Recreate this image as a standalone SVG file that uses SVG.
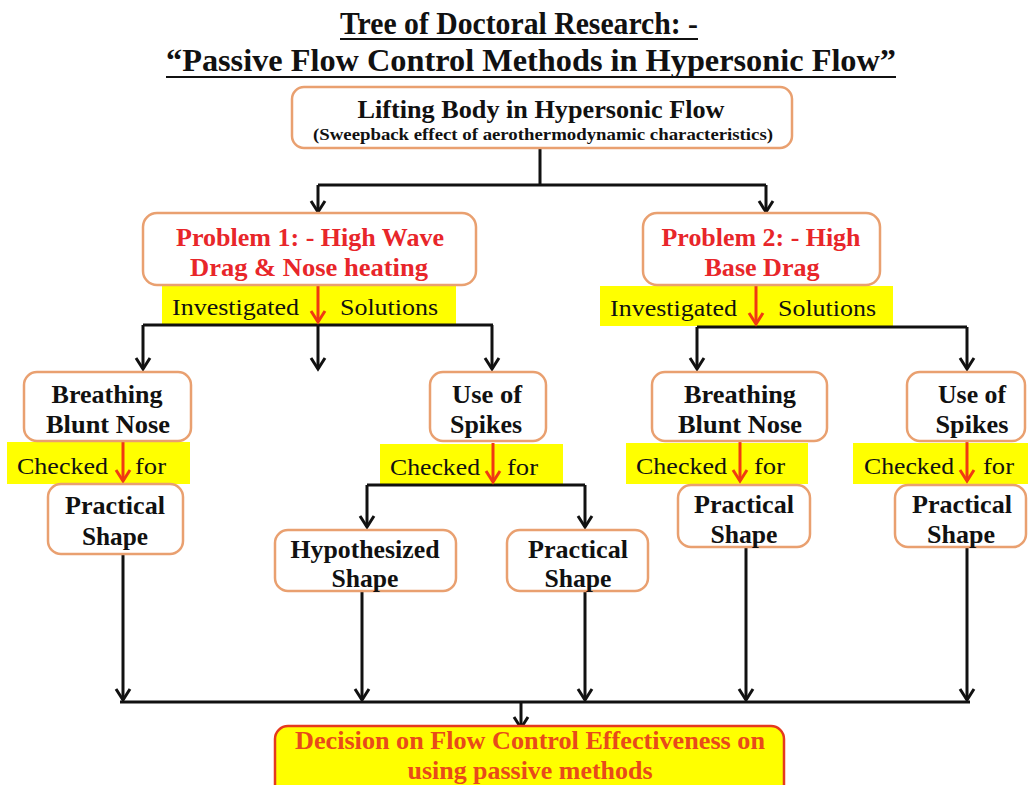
<svg xmlns="http://www.w3.org/2000/svg" width="1028" height="785" viewBox="0 0 1028 785">
<style>
.box{fill:#fff;stroke:#E9A070;stroke-width:2.5}
.band{fill:#FFFF00}
.t{font-family:"Liberation Serif","Times New Roman",serif;font-weight:bold;fill:#111;text-anchor:middle;font-size:26px}
.r{font-family:"Liberation Serif","Times New Roman",serif;fill:#111;font-size:24px}
.red{fill:#E8262A}
.c{fill:none;stroke:#111;stroke-width:3}
.cr{fill:none;stroke:#F03A12;stroke-width:3}
</style>
<defs>
<marker id="ab" markerUnits="userSpaceOnUse" markerWidth="20" markerHeight="20" viewBox="-14 -10 16 20" refX="0" refY="0" orient="auto" overflow="visible">
<path d="M-11,-7 L0,0 L-11,7" fill="none" stroke="#111" stroke-width="3"/>
</marker>
<marker id="ar" markerUnits="userSpaceOnUse" markerWidth="20" markerHeight="20" viewBox="-14 -10 16 20" refX="0" refY="0" orient="auto" overflow="visible">
<path d="M-11,-7 L0,0 L-11,7" fill="none" stroke="#F03A12" stroke-width="3"/>
</marker>
</defs>
<rect width="1028" height="785" fill="#fff"/>

<g id="title">
<text class="t" x="519" y="34" style="font-size:32px" textLength="358" lengthAdjust="spacingAndGlyphs">Tree of Doctoral Research: -</text>
<line x1="340" y1="39" x2="698" y2="39" stroke="#111" stroke-width="2"/>
<text class="t" x="531" y="71" style="font-size:32px" textLength="730" lengthAdjust="spacingAndGlyphs">“Passive Flow Control Methods in Hypersonic Flow”</text>
<line x1="166" y1="77" x2="896" y2="77" stroke="#111" stroke-width="2"/>
</g>

<g id="bands">
<rect class="band" x="162" y="286" width="294" height="38"/>
<rect class="band" x="600" y="286" width="293" height="40"/>
<rect class="band" x="7" y="442" width="183" height="42"/>
<rect class="band" x="380" y="444" width="183" height="41"/>
<rect class="band" x="626" y="443" width="182" height="41"/>
<rect class="band" x="853" y="443" width="175" height="41"/>
</g>

<g id="connectors">
<path class="c" d="M540,148 V185 M318,185 H766"/>
<path class="c" d="M318,185 V212" marker-end="url(#ab)"/>
<path class="c" d="M766,185 V212" marker-end="url(#ab)"/>
<path class="c" d="M143,325 H493"/>
<path class="c" d="M143,325 V369" marker-end="url(#ab)"/>
<path class="c" d="M318,325 V369" marker-end="url(#ab)"/>
<path class="c" d="M492,325 V369" marker-end="url(#ab)"/>
<path class="c" d="M697,327 H967"/>
<path class="c" d="M697,327 V369" marker-end="url(#ab)"/>
<path class="c" d="M967,327 V369" marker-end="url(#ab)"/>
<path class="c" d="M367,485 H585"/>
<path class="c" d="M367,485 V527" marker-end="url(#ab)"/>
<path class="c" d="M585,485 V527" marker-end="url(#ab)"/>
<path class="c" d="M123,554 V700" marker-end="url(#ab)"/>
<path class="c" d="M362,592 V700" marker-end="url(#ab)"/>
<path class="c" d="M585,592 V700" marker-end="url(#ab)"/>
<path class="c" d="M746,547 V700" marker-end="url(#ab)"/>
<path class="c" d="M967,547 V700" marker-end="url(#ab)"/>
<path class="c" d="M120,702 H970"/>
<path class="c" d="M521,702 V728" marker-end="url(#ab)"/>
<path class="cr" d="M318,285 V322" marker-end="url(#ar)"/>
<path class="cr" d="M756,285 V324" marker-end="url(#ar)"/>
<path class="cr" d="M123,442 V481" marker-end="url(#ar)"/>
<path class="cr" d="M493,443 V482" marker-end="url(#ar)"/>
<path class="cr" d="M740,442 V481" marker-end="url(#ar)"/>
<path class="cr" d="M967,442 V481" marker-end="url(#ar)"/>
</g>

<g id="band-labels">
<text class="r" x="172" y="315" textLength="127" lengthAdjust="spacingAndGlyphs">Investigated</text>
<text class="r" x="340" y="315" textLength="98" lengthAdjust="spacingAndGlyphs">Solutions</text>
<text class="r" x="610" y="316" textLength="127" lengthAdjust="spacingAndGlyphs">Investigated</text>
<text class="r" x="778" y="316" textLength="98" lengthAdjust="spacingAndGlyphs">Solutions</text>
<text class="r" x="17" y="474" textLength="91" lengthAdjust="spacingAndGlyphs">Checked</text>
<text class="r" x="135" y="474" textLength="31" lengthAdjust="spacingAndGlyphs">for</text>
<text class="r" x="390" y="475" textLength="90" lengthAdjust="spacingAndGlyphs">Checked</text>
<text class="r" x="507" y="475" textLength="31" lengthAdjust="spacingAndGlyphs">for</text>
<text class="r" x="636" y="474" textLength="91" lengthAdjust="spacingAndGlyphs">Checked</text>
<text class="r" x="754" y="474" textLength="31" lengthAdjust="spacingAndGlyphs">for</text>
<text class="r" x="864" y="474" textLength="90" lengthAdjust="spacingAndGlyphs">Checked</text>
<text class="r" x="983" y="474" textLength="31" lengthAdjust="spacingAndGlyphs">for</text>
</g>

<g id="n-lifting">
<rect class="box" x="292" y="87" width="500" height="61" rx="12"/>
<text class="t" x="541" y="118" textLength="367" lengthAdjust="spacingAndGlyphs">Lifting Body in Hypersonic Flow</text>
<text class="t" x="543" y="140" style="font-size:16px" textLength="460" lengthAdjust="spacingAndGlyphs">(Sweepback effect of aerothermodynamic characteristics)</text>
</g>

<g id="n-problem1">
<rect class="box" x="143" y="213" width="333" height="72" rx="14"/>
<text class="t red" x="310" y="246" textLength="268" lengthAdjust="spacingAndGlyphs">Problem 1: - High Wave</text>
<text class="t red" x="309" y="276" textLength="238" lengthAdjust="spacingAndGlyphs">Drag &amp; Nose heating</text>
</g>

<g id="n-problem2">
<rect class="box" x="643" y="213" width="237" height="72" rx="14"/>
<text class="t red" x="761" y="246" textLength="199" lengthAdjust="spacingAndGlyphs">Problem 2: - High</text>
<text class="t red" x="762" y="276" textLength="115" lengthAdjust="spacingAndGlyphs">Base Drag</text>
</g>

<g id="n-bbn1">
<rect class="box" x="24" y="372" width="167" height="69" rx="13"/>
<text class="t" x="107" y="403" textLength="111" lengthAdjust="spacingAndGlyphs">Breathing</text>
<text class="t" x="108" y="433" textLength="124" lengthAdjust="spacingAndGlyphs">Blunt Nose</text>
</g>

<g id="n-ps1">
<rect class="box" x="48" y="484" width="135" height="70" rx="13"/>
<text class="t" x="115" y="514" textLength="100" lengthAdjust="spacingAndGlyphs">Practical</text>
<text class="t" x="115" y="545" textLength="66" lengthAdjust="spacingAndGlyphs">Shape</text>
</g>

<g id="n-spikes1">
<rect class="box" x="430" y="372" width="116" height="69" rx="13"/>
<text class="t" x="487" y="403" textLength="70" lengthAdjust="spacingAndGlyphs">Use of</text>
<text class="t" x="486" y="433" textLength="72" lengthAdjust="spacingAndGlyphs">Spikes</text>
</g>

<g id="n-hyp">
<rect class="box" x="275" y="530" width="181" height="61" rx="13"/>
<text class="t" x="365" y="558" textLength="149" lengthAdjust="spacingAndGlyphs">Hypothesized</text>
<text class="t" x="365" y="587" textLength="67" lengthAdjust="spacingAndGlyphs">Shape</text>
</g>

<g id="n-ps2">
<rect class="box" x="507" y="530" width="141" height="61" rx="13"/>
<text class="t" x="578" y="558" textLength="100" lengthAdjust="spacingAndGlyphs">Practical</text>
<text class="t" x="578" y="587" textLength="67" lengthAdjust="spacingAndGlyphs">Shape</text>
</g>

<g id="n-bbn2">
<rect class="box" x="652" y="372" width="175" height="69" rx="13"/>
<text class="t" x="740" y="403" textLength="112" lengthAdjust="spacingAndGlyphs">Breathing</text>
<text class="t" x="740" y="433" textLength="124" lengthAdjust="spacingAndGlyphs">Blunt Nose</text>
</g>

<g id="n-ps3">
<rect class="box" x="678" y="485" width="132" height="62" rx="13"/>
<text class="t" x="744" y="513" textLength="100" lengthAdjust="spacingAndGlyphs">Practical</text>
<text class="t" x="744" y="543" textLength="67" lengthAdjust="spacingAndGlyphs">Shape</text>
</g>

<g id="n-spikes2">
<rect class="box" x="907" y="372" width="118" height="69" rx="13"/>
<text class="t" x="972" y="403" textLength="68" lengthAdjust="spacingAndGlyphs">Use of</text>
<text class="t" x="972" y="433" textLength="73" lengthAdjust="spacingAndGlyphs">Spikes</text>
</g>

<g id="n-ps4">
<rect class="box" x="895" y="485" width="131" height="62" rx="13"/>
<text class="t" x="962" y="513" textLength="100" lengthAdjust="spacingAndGlyphs">Practical</text>
<text class="t" x="961" y="543" textLength="68" lengthAdjust="spacingAndGlyphs">Shape</text>
</g>

<g id="n-decision">
<rect x="275" y="726" width="509" height="75" rx="13" fill="#FFFF00" stroke="#E53A1E" stroke-width="2.5"/>
<text class="t" x="530" y="749" style="fill:#E84A1A" textLength="470" lengthAdjust="spacingAndGlyphs">Decision on Flow Control Effectiveness on</text>
<text class="t" x="530" y="779" style="fill:#E84A1A" textLength="245" lengthAdjust="spacingAndGlyphs">using passive methods</text>
</g>
</svg>
